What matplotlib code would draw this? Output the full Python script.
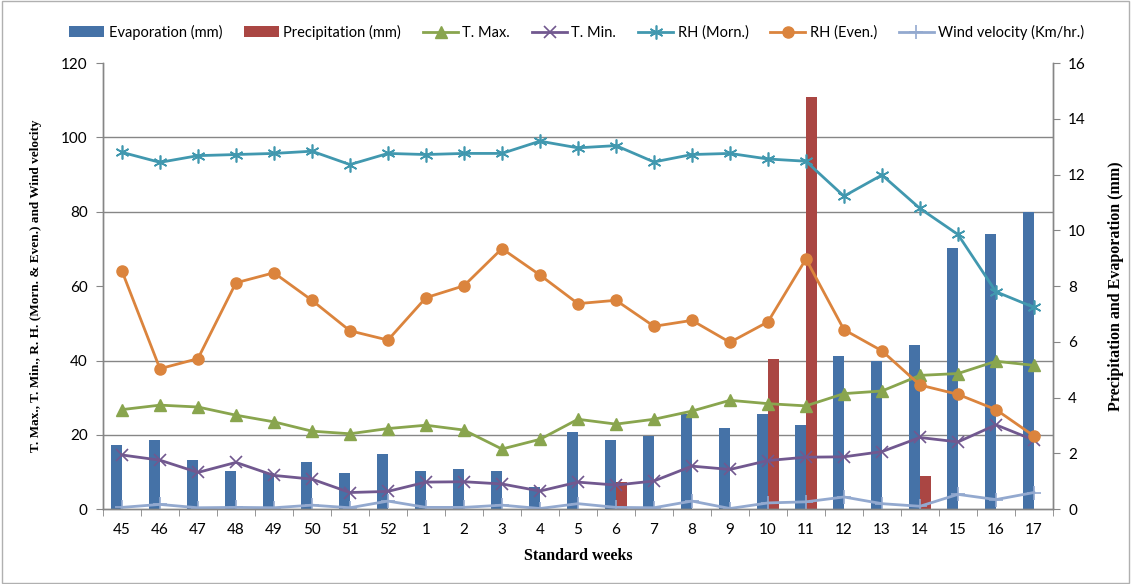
import numpy as np
import matplotlib
matplotlib.use('Agg')
import matplotlib.pyplot as plt
from matplotlib.ticker import MultipleLocator, FixedLocator
from matplotlib.patches import Rectangle

weeks = ['45', '46', '47', '48', '49', '50', '51', '52', '1', '2', '3', '4', '5',
         '6', '7', '8', '9', '10', '11', '12', '13', '14', '15', '16', '17']

# right axis (mm)
evaporation = [2.29, 2.50, 1.78, 1.37, 1.29, 1.70, 1.29, 1.97, 1.37, 1.46, 1.37, 0.80, 2.77,
               2.50, 2.62, 3.41, 2.92, 3.41, 3.01, 5.49, 5.31, 5.88, 9.38, 9.87, 10.67]
precipitation = [0, 0, 0, 0, 0, 0, 0, 0, 0, 0, 0, 0, 0,
                 0.98, 0, 0, 0, 5.38, 14.77, 0, 0, 1.19, 0, 0, 0]

# left axis
t_max = [26.8, 28.0, 27.5, 25.3, 23.5, 21.0, 20.3, 21.7, 22.6, 21.3, 16.2, 18.8, 24.2,
         22.9, 24.2, 26.4, 29.3, 28.4, 27.8, 31.1, 31.8, 36.0, 36.5, 39.8, 38.7]
t_min = [14.6, 13.2, 9.9, 12.6, 9.1, 8.1, 4.5, 4.8, 7.3, 7.4, 6.8, 4.9, 7.3,
         6.5, 7.6, 11.6, 10.7, 13.1, 14.0, 14.1, 15.5, 19.3, 18.1, 22.7, 18.6]
rh_morn = [96.0, 93.3, 95.1, 95.4, 95.7, 96.3, 92.7, 95.7, 95.4, 95.7, 95.7, 99.0, 97.2,
           97.8, 93.4, 95.4, 95.7, 94.2, 93.6, 84.2, 89.9, 80.9, 73.9, 58.5, 54.3]
rh_even = [64.1, 37.8, 40.5, 60.9, 63.6, 56.2, 48.0, 45.5, 56.9, 60.1, 70.1, 63.0, 55.3,
           56.2, 49.2, 50.8, 44.9, 50.4, 67.3, 48.3, 42.6, 33.4, 30.9, 26.8, 19.7]
wind = [0.5, 1.3, 0.4, 0.5, 0.4, 1.1, 0.4, 2.2, 0.5, 0.5, 1.1, 0.2, 1.5,
        0.5, 0.4, 2.2, 0.2, 1.7, 2.0, 3.3, 1.5, 0.8, 4.0, 2.6, 4.5]

plt.rcParams['font.family'] = ['Lato', 'DejaVu Sans']
SERIF = 'Liberation Serif'
GREY = '#868686'

fig = plt.figure(figsize=(11.31, 5.84), dpi=100)
fig.patches.append(Rectangle((0.002, 0.002), 0.996, 0.996, transform=fig.transFigure,
                             fill=False, edgecolor='#b0b0b0', linewidth=1))

ax = fig.add_axes([0.091, 0.128, 0.840, 0.764])
ax2 = ax.twinx()
ax.set_zorder(ax2.get_zorder() + 1)
ax.patch.set_visible(False)

x = np.arange(len(weeks))

# bars on the secondary (right) axis
ax2.bar(x - 0.14, evaporation, width=0.28, color='#4572A7', label='Evaporation (mm)')
ax2.bar(x + 0.14, precipitation, width=0.28, color='#AA4643', label='Precipitation (mm)')
ax2.set_ylim(0, 16)
ax2.yaxis.set_major_locator(MultipleLocator(2))
ax2.yaxis.set_minor_locator(FixedLocator(np.linspace(0, 16, 7)))
ax2.grid(axis='y', which='minor', color=GREY, linewidth=1)
ax2.set_axisbelow(True)
ax2.tick_params(axis='y', which='minor', length=0)
ax2.tick_params(axis='y', which='major', direction='out', length=5, color=GREY,
                labelsize=11, pad=6)
ax2.set_ylabel('Precipitation and Evaporation (mm)', fontfamily=SERIF, fontweight='bold',
               fontsize=11.5, labelpad=16)

# lines on the primary (left) axis
ax.plot(x, t_max, color='#89A54E', lw=2, marker='^', ms=8, label='T. Max.')
ax.plot(x, t_min, color='#71588F', lw=2, marker='x', ms=9, mew=1.2, label='T. Min.')
ax.plot(x, rh_morn, color='#4198AF', lw=2, marker=(6, 2, 0), ms=10, mew=1.2, label='RH (Morn.)')
ax.plot(x, rh_even, color='#DB843D', lw=2, marker='o', ms=8, label='RH (Even.)')
ax.plot(x, wind, color='#93A9CF', lw=2, marker='+', ms=10, mew=1.2,
        label='Wind velocity (Km/hr.)')

ax.set_ylim(0, 120)
ax.set_xlim(-0.5, len(weeks) - 0.5)
ax.yaxis.set_major_locator(MultipleLocator(20))
ax.tick_params(axis='y', direction='out', length=5, color=GREY, labelsize=11, pad=6)
ax.set_xticks(x)
ax.set_xticklabels(weeks)
ax.set_xticks(np.arange(-0.5, len(weeks)), minor=True)
ax.tick_params(axis='x', which='major', length=0, labelsize=11, pad=10)
ax.tick_params(axis='x', which='minor', direction='out', length=5, color=GREY)
ax.set_xlabel('Standard weeks', fontfamily=SERIF, fontweight='bold', fontsize=11.5, labelpad=8)
ax.set_ylabel('T. Max., T. Min., R. H. (Morn. & Even.) and Wind velocity', fontfamily=SERIF,
              fontweight='bold', fontsize=9.5, labelpad=14)

for a in (ax, ax2):
    a.spines['top'].set_visible(False)
    for s in ('left', 'right', 'bottom'):
        a.spines[s].set_color(GREY)
        a.spines[s].set_linewidth(1)

h2, l2 = ax2.get_legend_handles_labels()
h1, l1 = ax.get_legend_handles_labels()
fig.legend(h2 + h1, l2 + l1, loc='center', bbox_to_anchor=(0.51, 0.945), ncol=7,
           frameon=False, fontsize=10.5, handlelength=2.4, columnspacing=1.5,
           handletextpad=0.3)

plt.savefig('out.png', dpi=100)
